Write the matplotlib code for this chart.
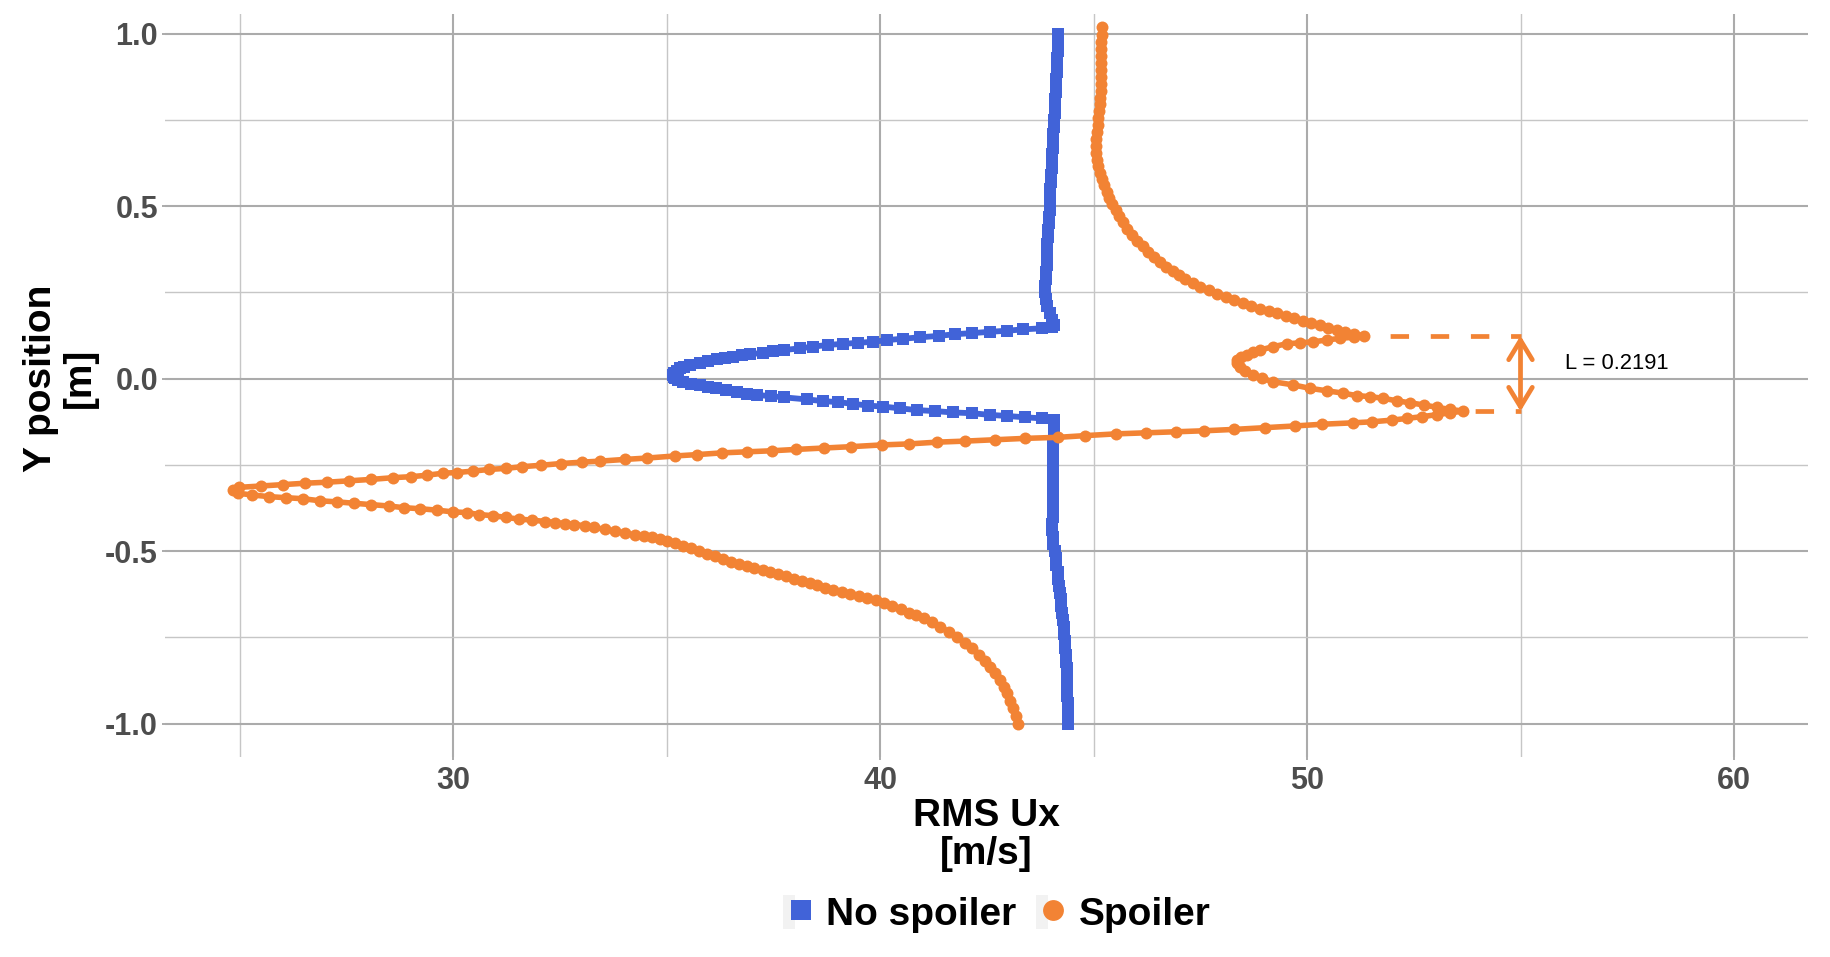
import matplotlib
matplotlib.use("Agg")
import matplotlib.pyplot as plt
from matplotlib.patches import Patch
from matplotlib.lines import Line2D
from matplotlib.legend_handler import HandlerTuple
from matplotlib.patches import ArrowStyle

# No spoiler profile (Y position [m], RMS Ux [m/s])
no_spoiler_y = [
    -1.00, -0.98, -0.96, -0.94, -0.92, -0.90, -0.88, -0.86, -0.84, -0.82,
    -0.80, -0.78, -0.76, -0.74, -0.72, -0.70, -0.68, -0.66, -0.64, -0.62,
    -0.60, -0.58, -0.56, -0.54, -0.52, -0.50, -0.48, -0.46, -0.44, -0.42,
    -0.40, -0.38, -0.36, -0.34, -0.32, -0.30, -0.28, -0.26, -0.24, -0.22,
    -0.20, -0.18, -0.16, -0.14, -0.12,
    -0.115, -0.112, -0.108, -0.105, -0.100, -0.098, -0.094, -0.091, -0.086, -0.081,
    -0.078, -0.073, -0.068, -0.065, -0.060, -0.054, -0.051, -0.047, -0.043, -0.038,
    -0.033, -0.028, -0.023, -0.018, -0.014, -0.009, -0.004, 0.001, 0.006, 0.011,
    0.016, 0.023, 0.030, 0.035, 0.040, 0.046, 0.051, 0.056, 0.060, 0.064,
    0.068, 0.071, 0.075, 0.079, 0.083, 0.088, 0.093, 0.098, 0.101, 0.104,
    0.107, 0.112, 0.116, 0.120, 0.124, 0.129, 0.132, 0.136, 0.139, 0.143,
    0.146, 0.151,
    0.155, 0.17, 0.19, 0.21, 0.23, 0.25, 0.27, 0.29, 0.31, 0.33,
    0.35, 0.37, 0.39, 0.41, 0.43, 0.45, 0.47, 0.49, 0.51, 0.53,
    0.55, 0.57, 0.59, 0.61, 0.63, 0.65, 0.67, 0.69, 0.71, 0.73,
    0.75, 0.77, 0.79, 0.81, 0.83, 0.85, 0.87, 0.89, 0.91, 0.93,
    0.95, 0.97, 0.99, 1.00]
no_spoiler_x = [
    44.41, 44.41, 44.40, 44.40, 44.39, 44.39, 44.38, 44.37, 44.37, 44.36,
    44.35, 44.34, 44.33, 44.32, 44.31, 44.29, 44.27, 44.25, 44.24, 44.22,
    44.20, 44.18, 44.16, 44.13, 44.11, 44.09, 44.06, 44.04, 44.03, 44.03,
    44.04, 44.04, 44.04, 44.05, 44.05, 44.05, 44.05, 44.06, 44.06, 44.06,
    44.06, 44.06, 44.07, 44.07, 44.08,
    43.79, 43.40, 42.97, 42.58, 42.15, 41.72, 41.29, 40.86, 40.47, 40.08,
    39.73, 39.37, 39.02, 38.67, 38.28, 37.74, 37.45, 37.11, 36.88, 36.64,
    36.40, 36.17, 35.97, 35.78, 35.58, 35.39, 35.28, 35.20, 35.17, 35.16,
    35.18, 35.24, 35.32, 35.42, 35.55, 35.78, 35.97, 36.18, 36.37, 36.56,
    36.76, 36.96, 37.27, 37.50, 37.74, 38.13, 38.44, 38.79, 39.13, 39.49,
    39.84, 40.17, 40.55, 40.94, 41.37, 41.76, 42.15, 42.58, 42.97, 43.36,
    43.79, 44.02,
    44.07, 44.03, 43.97, 43.92, 43.88, 43.87, 43.87, 43.88, 43.89, 43.90,
    43.91, 43.92, 43.92, 43.93, 43.94, 43.95, 43.96, 43.97, 43.97, 43.98,
    43.99, 44.00, 44.01, 44.02, 44.02, 44.03, 44.04, 44.05, 44.06, 44.07,
    44.08, 44.09, 44.10, 44.10, 44.11, 44.12, 44.13, 44.14, 44.15, 44.15,
    44.16, 44.17, 44.18, 44.18]

# Spoiler profile
spoiler_y = [
    -1.000, -0.978, -0.956, -0.934, -0.912, -0.893, -0.873, -0.854, -0.836, -0.818,
    -0.800, -0.782, -0.766, -0.750, -0.734, -0.719, -0.706, -0.695, -0.686, -0.678,
    -0.668, -0.658, -0.649, -0.641, -0.636, -0.630, -0.624, -0.618, -0.612, -0.606,
    -0.599, -0.592, -0.586, -0.580, -0.573, -0.567, -0.561, -0.555, -0.549, -0.543,
    -0.537, -0.530, -0.522, -0.515, -0.508, -0.500, -0.492, -0.484, -0.477, -0.470,
    -0.465, -0.460, -0.456, -0.453,
    -0.448, -0.442, -0.437, -0.431, -0.426, -0.423, -0.420, -0.417, -0.414, -0.410,
    -0.407, -0.402, -0.397, -0.394, -0.388, -0.386, -0.381, -0.377, -0.374, -0.369,
    -0.365, -0.361, -0.357, -0.354, -0.348, -0.345, -0.342, -0.337, -0.332, -0.324,
    -0.315, -0.311, -0.307, -0.303, -0.300, -0.296, -0.292, -0.287, -0.284, -0.280,
    -0.274, -0.272, -0.268, -0.263, -0.260, -0.255, -0.251, -0.246, -0.242, -0.239,
    -0.234, -0.230, -0.224, -0.220, -0.215, -0.212, -0.209, -0.205, -0.201, -0.197,
    -0.192, -0.189, -0.184, -0.181, -0.177, -0.173, -0.170, -0.165, -0.160, -0.157,
    -0.154, -0.151, -0.147, -0.142, -0.137, -0.132, -0.128, -0.125, -0.120, -0.115,
    -0.110, -0.104, -0.099, -0.094,
    -0.089, -0.083, -0.076, -0.070, -0.064, -0.057, -0.052, -0.049, -0.042, -0.035,
    -0.028, -0.018, -0.009, 0.001, 0.011, 0.022, 0.035, 0.045, 0.054, 0.062,
    0.069, 0.076, 0.083, 0.093, 0.101, 0.104, 0.107, 0.112, 0.117, 0.120,
    0.124,
    0.130, 0.135, 0.142, 0.148, 0.155, 0.161, 0.168, 0.175, 0.182, 0.189,
    0.196, 0.203, 0.210, 0.218, 0.227, 0.236, 0.245, 0.256, 0.266, 0.277,
    0.289, 0.300, 0.311, 0.325, 0.339, 0.353, 0.368, 0.384, 0.400, 0.417,
    0.435, 0.453, 0.471, 0.488, 0.506, 0.524, 0.542, 0.560, 0.578, 0.597,
    0.616, 0.635, 0.655, 0.675, 0.695, 0.715, 0.735, 0.755, 0.775, 0.795,
    0.815, 0.835, 0.855, 0.875, 0.895, 0.915, 0.935, 0.955, 0.975, 0.995,
    1.020]
spoiler_x = [
    43.24, 43.18, 43.12, 43.05, 42.98, 42.90, 42.81, 42.70, 42.58, 42.45,
    42.31, 42.15, 41.98, 41.80, 41.61, 41.41, 41.22, 41.03, 40.85, 40.67,
    40.48, 40.29, 40.10, 39.90, 39.70, 39.50, 39.30, 39.10, 38.91, 38.72,
    38.53, 38.35, 38.17, 37.98, 37.80, 37.61, 37.43, 37.25, 37.06, 36.88,
    36.69, 36.50, 36.32, 36.13, 35.95, 35.76, 35.58, 35.39, 35.20, 35.02,
    34.84, 34.65, 34.47, 34.26,
    34.03, 33.79, 33.56, 33.31, 33.08, 32.84, 32.62, 32.39, 32.15, 31.86,
    31.54, 31.23, 30.93, 30.62, 30.32, 29.99, 29.62, 29.23, 28.86, 28.49,
    28.07, 27.67, 27.28, 26.89, 26.49, 26.09, 25.70, 25.29, 24.97, 24.85,
    24.99, 25.50, 26.02, 26.54, 27.06, 27.57, 28.08, 28.59, 29.02, 29.38,
    29.76, 30.09, 30.46, 30.85, 31.24, 31.62, 32.06, 32.52, 33.01, 33.44,
    34.03, 34.55, 35.20, 35.72, 36.30, 36.88, 37.46, 38.04, 38.69, 39.33,
    40.04, 40.69, 41.33, 41.98, 42.69, 43.40, 44.17, 44.81, 45.52, 46.23,
    46.94, 47.59, 48.30, 49.01, 49.72, 50.36, 51.07, 51.52, 52.00, 52.35,
    52.70, 53.05, 53.35, 53.66,
    53.35, 53.04, 52.73, 52.41, 52.10, 51.79, 51.48, 51.16, 50.85, 50.46,
    50.07, 49.68, 49.21, 48.95, 48.74, 48.55, 48.43, 48.36, 48.35, 48.45,
    48.59, 48.74, 48.90, 49.21, 49.52, 49.84, 50.15, 50.46, 50.77, 51.09,
    51.34,
    51.10, 50.90, 50.70, 50.50, 50.30, 50.10, 49.90, 49.70, 49.50, 49.30,
    49.10, 48.90, 48.70, 48.50, 48.30, 48.10, 47.90, 47.70, 47.50, 47.32,
    47.15, 47.00, 46.85, 46.70, 46.56, 46.42, 46.28, 46.15, 46.02, 45.90,
    45.79, 45.69, 45.60, 45.52, 45.44, 45.37, 45.31, 45.25, 45.20, 45.15,
    45.11, 45.08, 45.06, 45.06, 45.07, 45.09, 45.10, 45.11, 45.13, 45.15,
    45.16, 45.17, 45.17, 45.17, 45.17, 45.18, 45.18, 45.18, 45.18, 45.19,
    45.19]

# thickness annotation
L_top = 0.1245
L_bottom = -0.0946
L_x = 55
dash_top_start = 51.0
dash_bottom_start = 53.0
L_label = "L = 0.2191"

blue = "#4163D8"
orange = "#F28334"
font = "Liberation Sans"

fig = plt.figure(figsize=(18.31, 9.57), dpi=100)
ax = fig.add_axes([165/1831, 1-757/957, 1643/1831, 743/957])

ax.plot(no_spoiler_x, no_spoiler_y, color=blue, lw=4.2, marker='s', ms=8.8,
        mew=0, zorder=3)
ax.plot(spoiler_x, spoiler_y, color=orange, lw=4.0, marker='o', ms=8.6,
        mew=0, zorder=4)

ax.plot([dash_top_start, L_x], [L_top, L_top], color=orange, lw=3.4,
        ls=(0, (3.9, 4.6)), dash_capstyle='butt', zorder=2)
ax.plot([dash_bottom_start, L_x], [L_bottom, L_bottom], color=orange, lw=3.4,
        ls=(0, (3.9, 4.6)), dash_capstyle='butt', zorder=2)
ax.annotate("", xy=(L_x, L_top), xytext=(L_x, L_bottom),
            arrowprops=dict(arrowstyle=ArrowStyle("<->", head_length=1.4, head_width=0.85),
                            color=orange, lw=3.4, shrinkA=0, shrinkB=0), zorder=2)
ax.text(57.26, 0.043, L_label, ha='center', va='center', fontsize=15.8,
        family=font, color='black')

ax.set_xlim(23.255, 61.733)
ax.set_ylim(-1.0966, 1.0571)
ax.set_xticks([30, 40, 50, 60])
ax.set_xticks([25, 35, 45, 55], minor=True)
ax.set_yticks([-1.0, -0.5, 0.0, 0.5, 1.0])
ax.set_yticks([-0.75, -0.25, 0.25, 0.75], minor=True)
ax.set_yticklabels(["-1.0", "-0.5", "0.0", "0.5", "1.0"])
ax.grid(which='major', color='#ABABAB', lw=1.5)
ax.grid(which='minor', color='#C6C6C6', lw=1.0)
ax.set_axisbelow(True)
for s in ax.spines.values():
    s.set_visible(False)
ax.tick_params(which='major', length=2.5, width=1.4, color='#ABABAB', pad=2.6,
               labelsize=22, labelcolor='#4D4D4D')
ax.tick_params(axis='x', which='major', pad=4)
ax.tick_params(which='minor', length=0)
for lab in ax.get_xticklabels() + ax.get_yticklabels():
    lab.set_family(font)
    lab.set_fontweight('bold')

fig.text(986.5/1831, 1-835/957, "RMS Ux\n[m/s]", ha='center', va='center',
         fontsize=28, fontweight='bold', family=font, linespacing=1.1)
fig.text(60/1831, 1-378/957, "Y position\n[m]", ha='center', va='center',
         rotation=90, fontsize=28, fontweight='bold', family=font, linespacing=1.1)

h1 = (Patch(facecolor='#F2F2F2', edgecolor='none'),
      Line2D([], [], ls='none', marker='s', color=blue, ms=15, mew=0))
h2 = (Patch(facecolor='#F2F2F2', edgecolor='none'),
      Line2D([], [], ls='none', marker='o', color=orange, ms=15, mew=0))
fig.legend([h1, h2], ["No spoiler", "Spoiler"],
           handler_map={tuple: HandlerTuple(ndivide=None, pad=0)},
           loc='center', bbox_to_anchor=(997/1831, 1-914/957), ncol=2, frameon=False,
           prop=dict(family=font, weight='bold', size=28),
           handlelength=0.6, handleheight=0.97, handletextpad=0.5, columnspacing=0.5,
           borderpad=0, borderaxespad=0)

fig.savefig("out.png", dpi=100, facecolor='white')
